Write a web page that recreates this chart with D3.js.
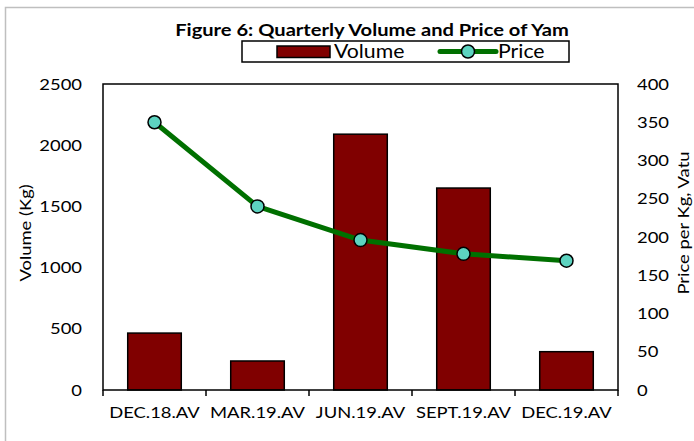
<!DOCTYPE html>
<html><head><meta charset="utf-8">
<script src="https://cdn.jsdelivr.net/npm/d3@7"></script>
<style>body{margin:0;background:#fff}svg{display:block}text{font-family:Lato,'Open Sans',sans-serif;fill:#000}</style>
</head><body><svg id="c" width="694" height="441"></svg>
<script>
const categories = ["DEC.18.AV","MAR.19.AV","JUN.19.AV","SEPT.19.AV","DEC.19.AV"];
const volume = [465, 237, 2090, 1650, 313];
const price = [350, 240, 196, 178, 169];
const volumeTicks = [0,500,1000,1500,2000,2500];
const priceTicks = [0,50,100,150,200,250,300,350,400];

const svg = d3.select("#c");
const m = {l:103, r:618, t:84, b:390};
svg.append("rect").attr("x",5.5).attr("y",7.5).attr("width",720).attr("height",460)
  .attr("fill","#fff").attr("stroke","#bfbfbf").attr("stroke-width",1.5);

const x = d3.scaleBand().domain(categories).range([m.l,m.r]).paddingInner(0.48).paddingOuter(0.24);
const xb = d3.scaleBand().domain(categories).range([m.l,m.r]);
const yL = d3.scaleLinear().domain([0,2500]).range([m.b,m.t]);
const yR = d3.scaleLinear().domain([0,400]).range([m.b,m.t]);
const SX = 1.15;

// bars
svg.append("g").selectAll("rect").data(categories).join("rect")
  .attr("x",d=>x(d)).attr("width",x.bandwidth())
  .attr("y",(d,i)=>yL(volume[i])).attr("height",(d,i)=>m.b-yL(volume[i]))
  .attr("fill","#800000").attr("stroke","#000").attr("stroke-width",1.5);

// plot border
svg.append("rect").attr("x",m.l).attr("y",m.t).attr("width",m.r-m.l).attr("height",m.b-m.t)
  .attr("fill","none").attr("stroke","#000").attr("stroke-width",1.5);

// x ticks
const bounds = categories.map(d=>xb(d)).concat([m.r]);
svg.append("g").selectAll("line").data(bounds).join("line")
  .attr("x1",d=>d).attr("x2",d=>d).attr("y1",m.b).attr("y2",m.b+6)
  .attr("stroke","#000").attr("stroke-width",1.5);

// x labels
svg.append("g").selectAll("text").data(categories).join("text")
  .attr("transform",d=>`translate(${xb(d)+xb.bandwidth()/2},${418}) scale(${SX},1)`)
  .attr("text-anchor","middle").attr("font-size",16).text(d=>d);

// left labels
svg.append("g").selectAll("text").data(volumeTicks).join("text")
  .attr("transform",d=>`translate(82,${yL(d)+5.5}) scale(${SX},1)`)
  .attr("text-anchor","end").attr("font-size",16).text(d=>d);
// right labels
svg.append("g").selectAll("text").data(priceTicks).join("text")
  .attr("transform",d=>`translate(637,${yR(d)+5.5}) scale(${SX},1)`)
  .attr("text-anchor","start").attr("font-size",16).text(d=>d);

// axis titles
svg.append("text").attr("transform",`translate(31,233) rotate(-90) scale(${SX},1)`)
  .attr("text-anchor","middle").attr("font-size",16).text("Volume (Kg)");
svg.append("text").attr("transform",`translate(689,223) rotate(-90) scale(${SX},1)`)
  .attr("text-anchor","middle").attr("font-size",16).text("Price per Kg, Vatu");

// line
const cx = d=>xb(d)+xb.bandwidth()/2;
svg.append("path").datum(categories)
  .attr("d",d3.line().x(d=>cx(d)).y((d,i)=>yR(price[i])))
  .attr("fill","none").attr("stroke","#007000").attr("stroke-width",5).attr("stroke-linejoin","round");
svg.append("g").selectAll("circle").data(categories).join("circle")
  .attr("cx",d=>cx(d)).attr("cy",(d,i)=>yR(price[i])).attr("r",6.5)
  .attr("fill","#5dd3c0").attr("stroke","#000").attr("stroke-width",1.5);

// title
svg.append("text").attr("transform",`translate(372,36) scale(${SX},1)`)
  .attr("text-anchor","middle").attr("font-size",17.5).attr("font-weight","bold")
  .text("Figure 6: Quarterly Volume and Price of Yam");

// legend
const lg = svg.append("g");
lg.append("rect").attr("x",242).attr("y",41).attr("width",327).attr("height",21)
  .attr("fill","#fff").attr("stroke","#000").attr("stroke-width",1.5);
lg.append("rect").attr("x",277).attr("y",46).attr("width",53).attr("height",11.5)
  .attr("fill","#800000").attr("stroke","#000").attr("stroke-width",1.5);
lg.append("text").attr("transform",`translate(334,58) scale(${SX},1)`).attr("font-size",18.5).text("Volume");
lg.append("line").attr("x1",440).attr("x2",496).attr("y1",51.5).attr("y2",51.5)
  .attr("stroke","#007000").attr("stroke-width",5).attr("stroke-linecap","round");
lg.append("circle").attr("cx",468).attr("cy",51.5).attr("r",6.5)
  .attr("fill","#5dd3c0").attr("stroke","#000").attr("stroke-width",1.5);
lg.append("text").attr("transform",`translate(498,58) scale(${SX},1)`).attr("font-size",18.5).text("Price");
</script></body></html>
